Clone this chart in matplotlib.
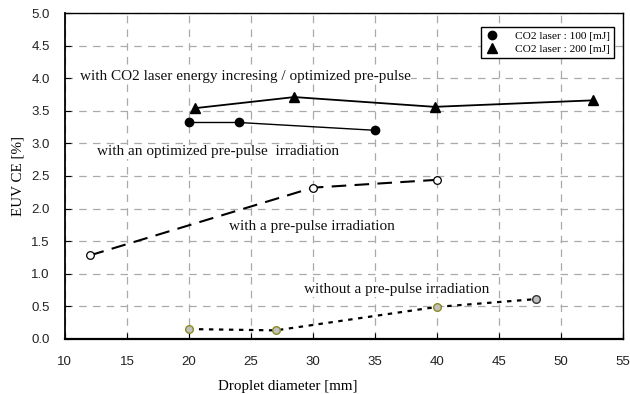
import numpy as np
import matplotlib.pyplot as plt

# droplet diameter [mm] vs EUV conversion efficiency [%]
d_200mj = [20.5, 28.5, 39.8, 52.6]
ce_200mj = [3.54, 3.71, 3.56, 3.66]

d_100mj = [20, 24, 35]
ce_100mj = [3.32, 3.32, 3.20]

d_prepulse = [12, 30, 40]
ce_prepulse = [1.28, 2.32, 2.44]

d_noprepulse = [20, 27, 40, 48]
ce_noprepulse = [0.15, 0.13, 0.49, 0.61]

serif = ['Liberation Serif', 'DejaVu Serif']
sans = ['Liberation Sans', 'DejaVu Sans']

fig = plt.figure(figsize=(6.3, 3.94), dpi=100)
ax = fig.add_axes([0.103, 0.14, 0.886, 0.827])

ax.plot(d_200mj, ce_200mj, '-', color='black', lw=1.3, marker='^', ms=7,
        label='CO2 laser : 200 [mJ]', zorder=4)
ax.plot(d_100mj, ce_100mj, '-', color='black', lw=1.0, marker='o', ms=6,
        label='CO2 laser : 100 [mJ]', zorder=4)
ax.plot(d_prepulse, ce_prepulse, color='black', lw=1.5, dashes=(7, 4),
        marker='o', ms=5.5, mfc='white', mec='black', mew=0.9, zorder=4)
ax.plot(d_noprepulse, ce_noprepulse, color='black', lw=1.6, dashes=(2, 2.5), zorder=3)
edge = ['#8c8c20', '#8c8c20', '#8c8c20', '#333333']
for x, y, ec in zip(d_noprepulse, ce_noprepulse, edge):
    ax.plot(x, y, 'o', ms=5.5, mfc='#c0c0c0', mec=ec, mew=1.0, zorder=4)

ax.set_xlim(10, 55)
ax.set_ylim(0, 5)
ax.set_xticks(np.arange(10, 56, 5))
ax.set_yticks(np.arange(0, 5.01, 0.5))
ax.set_yticklabels(['%.1f' % v for v in np.arange(0, 5.01, 0.5)])
ax.tick_params(direction='in', length=4, width=0.8, labelsize=9.5)
ax.tick_params(axis='x', pad=12)
ax.tick_params(axis='y', pad=11)
for lab in ax.get_xticklabels() + ax.get_yticklabels():
    lab.set_family(sans)
    lab.set_color('#222222')
ax.grid(True, color='#aaaaaa', lw=0.9, dashes=(6, 5))
ax.set_axisbelow(True)
for s in ax.spines.values():
    s.set_linewidth(1.0)
ax.spines['left'].set_linewidth(1.3)
ax.spines['bottom'].set_linewidth(1.6)

ax.set_xlabel('Droplet diameter [mm]', family=serif, fontsize=10.8, labelpad=9, x=0.40)
ax.set_ylabel('EUV CE [%]', family=serif, fontsize=10.8, labelpad=5)

txt = dict(family=serif, fontsize=11, color='#111111', va='center',
           bbox=dict(facecolor='white', edgecolor='none', pad=0.5))
ax.text(11.2, 4.03, 'with CO2 laser energy incresing / optimized pre-pulse', **txt)
ax.text(12.6, 2.87, 'with an optimized pre-pulse  irradiation', **txt)
ax.text(23.2, 1.72, 'with a pre-pulse irradiation', **txt)
ax.text(29.3, 0.76, 'without a pre-pulse irradiation', **txt)

h, l = ax.get_legend_handles_labels()
leg = ax.legend([h[1], h[0]], [l[1], l[0]], loc='upper right',
                bbox_to_anchor=(0.99, 0.966), prop={'family': serif, 'size': 8.2},
                frameon=True, fancybox=False, edgecolor='black', framealpha=1,
                handlelength=1.2, handletextpad=1.4, borderpad=0.35, labelspacing=0.25,
                borderaxespad=0.3)
for lh in leg.legend_handles:
    lh.set_linestyle('none')
leg.get_frame().set_linewidth(1.0)

fig.savefig('out.png', dpi=100)
